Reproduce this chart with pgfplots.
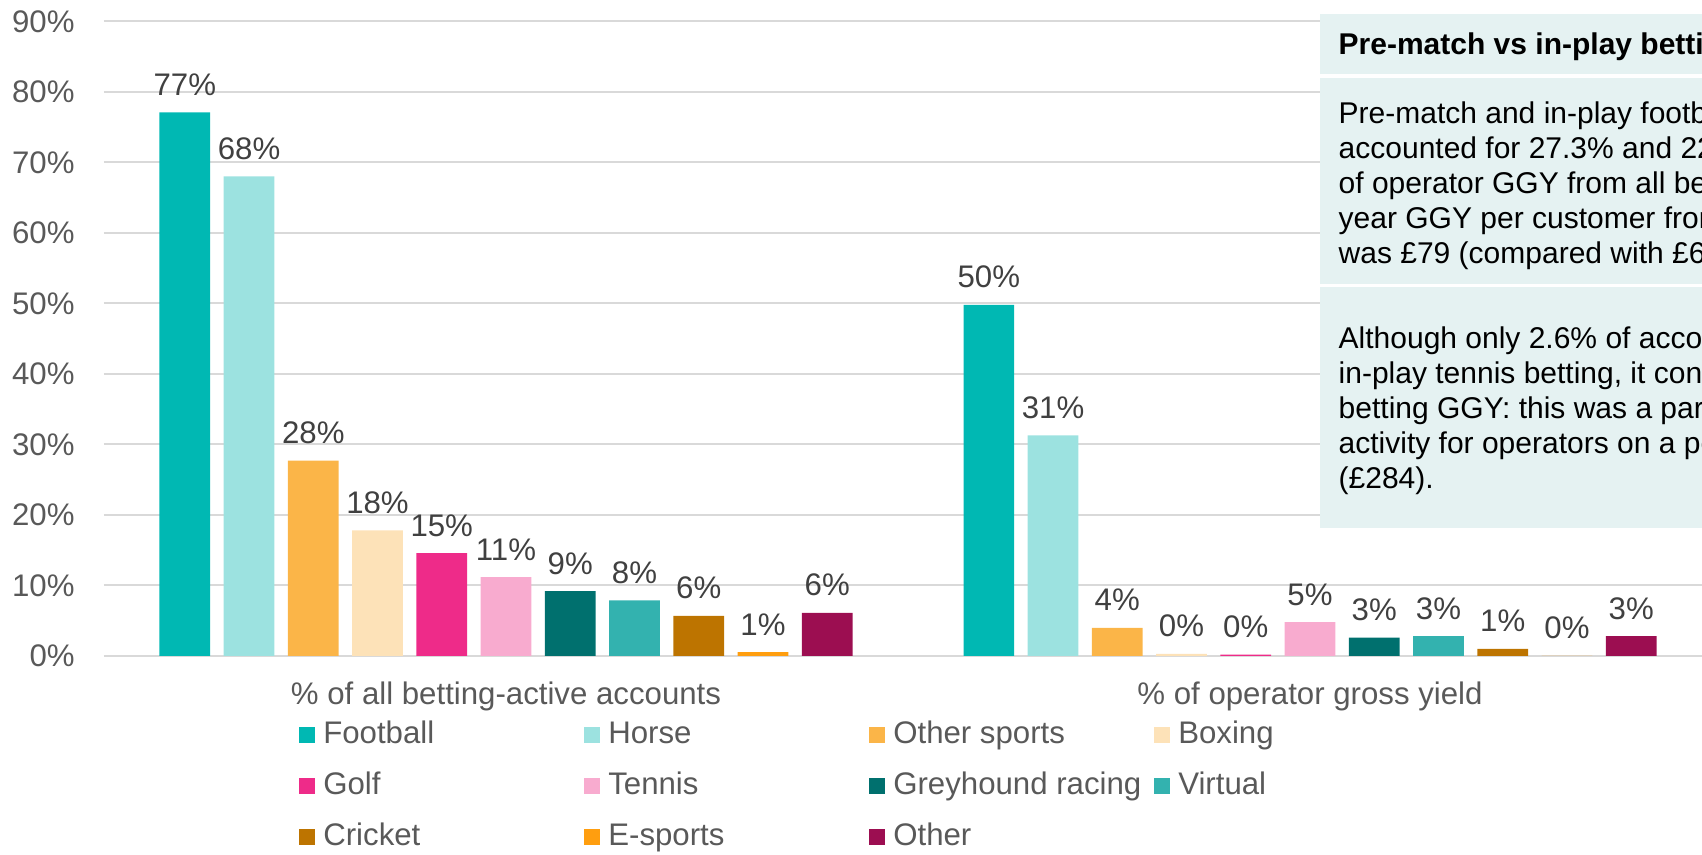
\documentclass[border=0pt]{standalone}
\usepackage{fontspec}
\setmainfont{Liberation Sans}
\usepackage{pgfplots}
\pgfplotsset{compat=1.18}

\definecolor{cFootball}{HTML}{00B8B3}
\definecolor{cHorse}{HTML}{9CE2E0}
\definecolor{cOtherSports}{HTML}{FBB548}
\definecolor{cBoxing}{HTML}{FDE2B8}
\definecolor{cGolf}{HTML}{EE2B89}
\definecolor{cTennis}{HTML}{F8ABCF}
\definecolor{cGreyhound}{HTML}{00706E}
\definecolor{cVirtual}{HTML}{33B2AF}
\definecolor{cCricket}{HTML}{BD7400}
\definecolor{cEsports}{HTML}{FF9E0F}
\definecolor{cOther}{HTML}{9C0E51}
\definecolor{cGrid}{HTML}{D9D9D9}
\definecolor{cText}{HTML}{595959}
\definecolor{cLabel}{HTML}{404040}
\definecolor{cBox}{HTML}{E5F2F2}

\newcommand{\chartfont}{\fontsize{15.6pt}{18pt}\selectfont}
\newcommand{\boxfont}{\fontsize{15pt}{17.5pt}\selectfont}
\newcommand{\lb}[1]{\makebox[134.5pt][l]{\hspace*{4.15pt}#1}}

\begin{document}
\begin{tikzpicture}
\begin{axis}[
  at={(52pt,99.5pt)}, anchor=south west,
  scale only axis, width=804pt, height=317.35pt,
  xmin=-0.5, xmax=1.5, ymin=0, ymax=90,
  ybar=6.82pt, bar width=25.3pt,
  clip=false,
  axis line style={draw=none},
  major tick length=0pt,
  ymajorgrids, grid style={cGrid, line width=1pt},
  ytick={0,10,...,90},
  yticklabels={0\%,10\%,20\%,30\%,40\%,50\%,60\%,70\%,80\%,90\%},
  yticklabel style={anchor=east, inner sep=0pt, xshift=-14.5pt, font=\chartfont, text=cText},
  xtick={0,1},
  xticklabels={\% of all betting-active accounts, \% of operator gross yield},
  xticklabel style={anchor=base, inner sep=0pt, yshift=-24.5pt, font=\chartfont, text=cText},
  /pgf/number format/assume math mode=true,
  nodes near coords={\pgfmathprintnumber[fixed,precision=0]{\pgfplotspointmeta}\%},
  nodes near coords style={anchor=base, inner sep=0pt, yshift=8.5pt, font=\chartfont, text=cLabel},
  every axis plot/.append style={draw=none},
  legend image code/.code={\fill[#1] (0pt,-4pt) rectangle (8pt,4pt);},
  legend columns=4,
  legend cell align=left,
  legend style={at={(0.12127,-0.0993)}, anchor=north west, draw=none, fill=none,
    inner sep=0pt, outer sep=0pt, row sep=10pt, column sep=0pt,
    nodes={inner sep=0pt, text height=12pt, text depth=3.5pt, font=\chartfont, text=cText}},
]
\addplot[fill=cFootball] coordinates {(0,77.1) (1,49.8)};
\addlegendentry{\lb{Football}}
\addplot[fill=cHorse] coordinates {(0,68.0) (1,31.3)};
\addlegendentry{\lb{Horse}}
\addplot[fill=cOtherSports] coordinates {(0,27.7) (1,4.0)};
\addlegendentry{\lb{Other sports}}
\addplot[fill=cBoxing] coordinates {(0,17.8) (1,0.3)};
\addlegendentry{\lb{Boxing}}
\addplot[fill=cGolf] coordinates {(0,14.6) (1,0.2)};
\addlegendentry{\lb{Golf}}
\addplot[fill=cTennis] coordinates {(0,11.2) (1,4.8)};
\addlegendentry{\lb{Tennis}}
\addplot[fill=cGreyhound] coordinates {(0,9.2) (1,2.6)};
\addlegendentry{\lb{Greyhound racing}}
\addplot[fill=cVirtual] coordinates {(0,7.9) (1,2.8)};
\addlegendentry{\lb{Virtual}}
\addplot[fill=cCricket] coordinates {(0,5.7) (1,1.0)};
\addlegendentry{\lb{Cricket}}
\addplot[fill=cEsports] coordinates {(0,0.55) (1,0.0)};
\addlegendentry{\lb{E-sports}}
\addplot[fill=cOther] coordinates {(0,6.1) (1,2.8)};
\addlegendentry{\lb{Other}}
\end{axis}

% text panel on the right (cut off by the picture edge, as in the original)
\begin{scope}[x=0.5pt, y=-0.5pt, shift={(0pt,427.5pt)}]
  \fill[cBox] (1320,14) rectangle (1780,74);
  \fill[cBox] (1320,78) rectangle (1780,284);
  \fill[cBox] (1320,287.5) rectangle (1780,528);
  \begin{scope}[every node/.style={anchor=base west, inner sep=0pt, font=\boxfont}]
    \node at (1338.3,55) {\bfseries Pre-match vs in-play betting};
    \node at (1338.3,123.3) {Pre-match and in-play football betting};
    \node at (1338.3,158.3) {accounted for 27.3\% and 22.1\%};
    \node at (1338.3,193.3) {of operator GGY from all betting};
    \node at (1338.3,228.3) {year GGY per customer from};
    \node at (1338.3,263.3) {was £79 (compared with £67)};
    \node at (1338.3,348.3) {Although only 2.6\% of accounts};
    \node at (1338.3,383.3) {in-play tennis betting, it contributed};
    \node at (1338.3,418.3) {betting GGY: this was a particularly};
    \node at (1338.3,453.3) {activity for operators on a per};
    \node at (1338.3,488.3) {(£284).};
  \end{scope}
\end{scope}

\pgfresetboundingbox
\useasboundingbox (0pt,0pt) rectangle (851pt,427.5pt);
\end{tikzpicture}
\end{document}
